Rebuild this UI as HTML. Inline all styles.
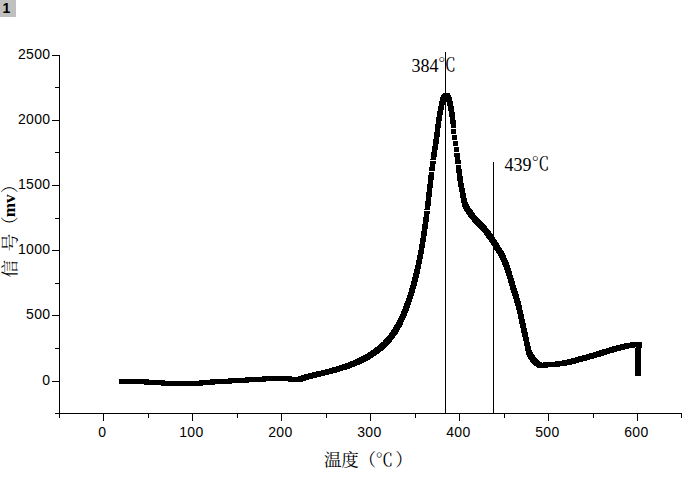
<!DOCTYPE html><html><head><meta charset="utf-8"><title>chart</title><style>
html,body{margin:0;padding:0;background:#fff}
#c{position:relative;width:687px;height:483px;overflow:hidden;background:#fff;font-family:"Liberation Sans",sans-serif;color:#000}
.t{position:absolute;font-size:14px;line-height:16px;height:16px;white-space:nowrap;letter-spacing:0.37px}
.yl{right:636.5px;text-align:right}
.xl{width:60px;text-align:center;top:424px}
.a{position:absolute;font-family:"Liberation Serif",serif;font-size:18px;line-height:20px;white-space:nowrap}
#b{position:absolute;left:0;top:0;width:16px;height:17px;background:#c0c0c0;font-weight:bold;font-size:14px;line-height:16px;text-indent:2.4px}
</style></head><body><div id="c">
<div id="b">1</div>
<svg width="687" height="483" viewBox="0 0 687 483" style="position:absolute;left:0;top:0"><path shape-rendering="crispEdges" fill="#000" d="M59 55h1v359h-1zM55 413h627v1H55zM52 381h7v1h-7zM52 315h7v1h-7zM52 250h7v1h-7zM52 185h7v1h-7zM52 120h7v1h-7zM52 55h7v1h-7zM55 348h4v1h-4zM55 283h4v1h-4zM55 218h4v1h-4zM55 152h4v1h-4zM55 87h4v1h-4zM103 413h1v8h-1zM192 413h1v8h-1zM281 413h1v8h-1zM370 413h1v8h-1zM459 413h1v8h-1zM548 413h1v8h-1zM637 413h1v8h-1zM59 413h1v5h-1zM148 413h1v5h-1zM237 413h1v5h-1zM326 413h1v5h-1zM415 413h1v5h-1zM504 413h1v5h-1zM593 413h1v5h-1zM681 413h1v5h-1zM445 52h1v361h-1zM493 162h1v251h-1z"/><path shape-rendering="crispEdges" fill="#000" d="M443 93h7v1h-7zM442 94h8v1h-8zM441 95h10v1h-10zM441 96h10v1h-10zM440 97h12v1h-12zM440 98h12v1h-12zM440 99h12v1h-12zM440 100h12v1h-12zM439 101h14v1h-14zM439 102h6v1h-6zM447 102h6v1h-6zM439 103h6v1h-6zM447 103h6v1h-6zM439 104h6v1h-6zM447 104h6v1h-6zM439 105h5v1h-5zM447 105h6v1h-6zM438 106h6v1h-6zM448 106h6v1h-6zM438 107h6v1h-6zM448 107h6v1h-6zM438 108h6v1h-6zM448 108h6v1h-6zM438 109h6v1h-6zM448 109h6v1h-6zM438 110h5v1h-5zM448 110h6v1h-6zM437 111h6v1h-6zM449 111h5v1h-5zM437 112h6v1h-6zM449 112h6v1h-6zM437 113h6v1h-6zM449 113h6v1h-6zM437 114h6v1h-6zM449 114h6v1h-6zM437 115h5v1h-5zM449 115h6v1h-6zM437 116h5v1h-5zM449 116h6v1h-6zM436 117h6v1h-6zM450 117h5v1h-5zM436 118h6v1h-6zM450 118h5v1h-5zM436 119h6v1h-6zM450 119h5v1h-5zM436 120h6v1h-6zM450 120h6v1h-6zM436 121h5v1h-5zM450 121h6v1h-6zM436 122h5v1h-5zM450 122h6v1h-6zM436 123h5v1h-5zM450 123h6v1h-6zM435 124h6v1h-6zM451 124h5v1h-5zM435 125h6v1h-6zM451 125h5v1h-5zM435 126h6v1h-6zM451 126h5v1h-5zM435 127h6v1h-6zM451 127h5v1h-5zM435 128h5v1h-5zM435 129h5v1h-5zM451 129h5v1h-5zM435 130h5v1h-5zM451 130h5v1h-5zM435 131h5v1h-5zM451 131h5v1h-5zM434 132h6v1h-6zM451 132h5v1h-5zM434 133h6v1h-6zM451 133h5v1h-5zM434 134h6v1h-6zM434 135h6v1h-6zM452 135h5v1h-5zM434 136h6v1h-6zM452 136h5v1h-5zM434 137h5v1h-5zM452 137h5v1h-5zM434 138h5v1h-5zM452 138h5v1h-5zM433 139h6v1h-6zM452 139h5v1h-5zM433 140h6v1h-6zM433 141h6v1h-6zM453 141h5v1h-5zM433 142h6v1h-6zM453 142h5v1h-5zM433 143h6v1h-6zM453 143h5v1h-5zM433 144h5v1h-5zM453 144h5v1h-5zM433 145h5v1h-5zM453 145h5v1h-5zM432 146h6v1h-6zM432 147h6v1h-6zM454 147h5v1h-5zM432 148h6v1h-6zM454 148h5v1h-5zM432 149h6v1h-6zM454 149h5v1h-5zM432 150h5v1h-5zM454 150h5v1h-5zM432 151h5v1h-5zM454 151h5v1h-5zM431 152h6v1h-6zM431 153h6v1h-6zM454 153h6v1h-6zM431 154h6v1h-6zM454 154h6v1h-6zM431 155h6v1h-6zM454 155h6v1h-6zM431 156h6v1h-6zM454 156h6v1h-6zM431 157h5v1h-5zM455 157h5v1h-5zM431 158h5v1h-5zM455 158h5v1h-5zM430 159h6v1h-6zM455 159h5v1h-5zM455 160h6v1h-6zM430 161h6v1h-6zM455 161h6v1h-6zM430 162h6v1h-6zM455 162h6v1h-6zM430 163h6v1h-6zM455 163h6v1h-6zM430 164h5v1h-5zM430 165h5v1h-5zM456 165h5v1h-5zM430 166h5v1h-5zM456 166h5v1h-5zM429 167h6v1h-6zM456 167h5v1h-5zM429 168h6v1h-6zM456 168h5v1h-5zM429 169h6v1h-6zM456 169h6v1h-6zM429 170h6v1h-6zM456 170h6v1h-6zM456 171h6v1h-6zM429 172h5v1h-5zM456 172h6v1h-6zM429 173h5v1h-5zM457 173h5v1h-5zM429 174h5v1h-5zM457 174h5v1h-5zM428 175h6v1h-6zM457 175h5v1h-5zM428 176h6v1h-6zM457 176h6v1h-6zM428 177h6v1h-6zM457 177h6v1h-6zM428 178h6v1h-6zM457 178h6v1h-6zM428 179h6v1h-6zM457 179h6v1h-6zM428 180h5v1h-5zM457 180h6v1h-6zM428 181h5v1h-5zM458 181h5v1h-5zM428 182h5v1h-5zM458 182h5v1h-5zM428 183h5v1h-5zM458 183h6v1h-6zM427 184h6v1h-6zM458 184h6v1h-6zM427 185h6v1h-6zM458 185h6v1h-6zM427 186h6v1h-6zM458 186h6v1h-6zM427 187h6v1h-6zM459 187h5v1h-5zM427 188h5v1h-5zM459 188h6v1h-6zM427 189h5v1h-5zM459 189h6v1h-6zM427 190h5v1h-5zM459 190h6v1h-6zM427 191h5v1h-5zM459 191h6v1h-6zM426 192h6v1h-6zM460 192h5v1h-5zM426 193h6v1h-6zM460 193h6v1h-6zM426 194h6v1h-6zM460 194h6v1h-6zM426 195h6v1h-6zM460 195h6v1h-6zM426 196h6v1h-6zM460 196h6v1h-6zM426 197h5v1h-5zM460 197h6v1h-6zM426 198h5v1h-5zM461 198h6v1h-6zM426 199h5v1h-5zM461 199h6v1h-6zM426 200h5v1h-5zM461 200h6v1h-6zM425 201h6v1h-6zM461 201h6v1h-6zM425 202h6v1h-6zM461 202h7v1h-7zM425 203h6v1h-6zM462 203h6v1h-6zM425 204h6v1h-6zM462 204h7v1h-7zM425 205h6v1h-6zM462 205h7v1h-7zM425 206h5v1h-5zM462 206h8v1h-8zM425 207h5v1h-5zM463 207h7v1h-7zM425 208h5v1h-5zM463 208h8v1h-8zM424 209h6v1h-6zM464 209h8v1h-8zM464 210h9v1h-9zM424 211h6v1h-6zM465 211h8v1h-8zM424 212h6v1h-6zM466 212h8v1h-8zM424 213h6v1h-6zM466 213h9v1h-9zM424 214h5v1h-5zM467 214h8v1h-8zM424 215h5v1h-5zM468 215h8v1h-8zM424 216h5v1h-5zM468 216h9v1h-9zM423 217h6v1h-6zM469 217h9v1h-9zM423 218h6v1h-6zM470 218h9v1h-9zM423 219h6v1h-6zM471 219h9v1h-9zM423 220h6v1h-6zM472 220h9v1h-9zM423 221h6v1h-6zM472 221h10v1h-10zM423 222h5v1h-5zM473 222h10v1h-10zM423 223h5v1h-5zM474 223h10v1h-10zM422 224h6v1h-6zM475 224h10v1h-10zM422 225h6v1h-6zM476 225h10v1h-10zM422 226h6v1h-6zM477 226h10v1h-10zM422 227h6v1h-6zM478 227h9v1h-9zM422 228h6v1h-6zM479 228h9v1h-9zM422 229h5v1h-5zM480 229h9v1h-9zM422 230h5v1h-5zM481 230h9v1h-9zM421 231h6v1h-6zM482 231h9v1h-9zM421 232h6v1h-6zM483 232h8v1h-8zM421 233h6v1h-6zM484 233h8v1h-8zM421 234h6v1h-6zM484 234h9v1h-9zM421 235h6v1h-6zM485 235h8v1h-8zM421 236h5v1h-5zM486 236h8v1h-8zM421 237h5v1h-5zM486 237h9v1h-9zM420 238h6v1h-6zM487 238h8v1h-8zM420 239h6v1h-6zM488 239h8v1h-8zM420 240h6v1h-6zM489 240h8v1h-8zM420 241h6v1h-6zM489 241h8v1h-8zM420 242h5v1h-5zM490 242h8v1h-8zM420 243h5v1h-5zM491 243h8v1h-8zM419 244h6v1h-6zM491 244h8v1h-8zM419 245h6v1h-6zM492 245h8v1h-8zM419 246h6v1h-6zM493 246h7v1h-7zM419 247h6v1h-6zM493 247h8v1h-8zM419 248h5v1h-5zM494 248h8v1h-8zM419 249h5v1h-5zM494 249h8v1h-8zM418 250h6v1h-6zM495 250h8v1h-8zM418 251h6v1h-6zM496 251h8v1h-8zM418 252h6v1h-6zM496 252h8v1h-8zM418 253h6v1h-6zM497 253h8v1h-8zM418 254h5v1h-5zM498 254h7v1h-7zM417 255h6v1h-6zM498 255h8v1h-8zM417 256h6v1h-6zM499 256h7v1h-7zM417 257h6v1h-6zM499 257h7v1h-7zM417 258h6v1h-6zM500 258h7v1h-7zM417 259h5v1h-5zM500 259h7v1h-7zM416 260h6v1h-6zM501 260h7v1h-7zM416 261h6v1h-6zM501 261h7v1h-7zM416 262h6v1h-6zM502 262h7v1h-7zM416 263h6v1h-6zM502 263h7v1h-7zM416 264h5v1h-5zM502 264h7v1h-7zM415 265h6v1h-6zM503 265h7v1h-7zM415 266h6v1h-6zM503 266h7v1h-7zM415 267h6v1h-6zM504 267h6v1h-6zM415 268h6v1h-6zM504 268h7v1h-7zM414 269h6v1h-6zM504 269h7v1h-7zM414 270h6v1h-6zM505 270h6v1h-6zM414 271h6v1h-6zM505 271h7v1h-7zM414 272h6v1h-6zM505 272h7v1h-7zM413 273h7v1h-7zM506 273h6v1h-6zM413 274h6v1h-6zM506 274h6v1h-6zM413 275h6v1h-6zM506 275h7v1h-7zM413 276h6v1h-6zM507 276h6v1h-6zM412 277h7v1h-7zM507 277h6v1h-6zM412 278h6v1h-6zM507 278h7v1h-7zM412 279h6v1h-6zM508 279h6v1h-6zM412 280h6v1h-6zM508 280h6v1h-6zM411 281h7v1h-7zM508 281h7v1h-7zM411 282h6v1h-6zM508 282h7v1h-7zM411 283h6v1h-6zM509 283h6v1h-6zM411 284h6v1h-6zM509 284h6v1h-6zM410 285h7v1h-7zM509 285h7v1h-7zM410 286h6v1h-6zM510 286h6v1h-6zM410 287h6v1h-6zM510 287h6v1h-6zM409 288h7v1h-7zM510 288h7v1h-7zM409 289h6v1h-6zM510 289h7v1h-7zM409 290h6v1h-6zM511 290h6v1h-6zM409 291h6v1h-6zM511 291h7v1h-7zM408 292h7v1h-7zM511 292h7v1h-7zM408 293h6v1h-6zM512 293h6v1h-6zM408 294h6v1h-6zM512 294h7v1h-7zM407 295h7v1h-7zM512 295h7v1h-7zM407 296h6v1h-6zM513 296h6v1h-6zM407 297h6v1h-6zM513 297h6v1h-6zM406 298h7v1h-7zM513 298h7v1h-7zM406 299h6v1h-6zM514 299h6v1h-6zM406 300h6v1h-6zM514 300h6v1h-6zM405 301h7v1h-7zM514 301h7v1h-7zM405 302h6v1h-6zM514 302h7v1h-7zM404 303h7v1h-7zM515 303h6v1h-6zM404 304h7v1h-7zM515 304h6v1h-6zM404 305h6v1h-6zM515 305h7v1h-7zM403 306h7v1h-7zM516 306h6v1h-6zM403 307h7v1h-7zM516 307h6v1h-6zM403 308h6v1h-6zM516 308h6v1h-6zM402 309h7v1h-7zM516 309h6v1h-6zM402 310h7v1h-7zM517 310h6v1h-6zM401 311h7v1h-7zM517 311h6v1h-6zM401 312h7v1h-7zM517 312h6v1h-6zM401 313h6v1h-6zM517 313h6v1h-6zM400 314h7v1h-7zM518 314h6v1h-6zM400 315h7v1h-7zM518 315h6v1h-6zM399 316h7v1h-7zM518 316h6v1h-6zM399 317h7v1h-7zM518 317h6v1h-6zM398 318h7v1h-7zM518 318h6v1h-6zM398 319h7v1h-7zM519 319h6v1h-6zM397 320h7v1h-7zM519 320h6v1h-6zM397 321h7v1h-7zM519 321h6v1h-6zM396 322h7v1h-7zM519 322h6v1h-6zM396 323h7v1h-7zM519 323h7v1h-7zM395 324h8v1h-8zM520 324h6v1h-6zM394 325h8v1h-8zM520 325h6v1h-6zM394 326h8v1h-8zM520 326h6v1h-6zM393 327h8v1h-8zM520 327h6v1h-6zM393 328h7v1h-7zM521 328h6v1h-6zM392 329h8v1h-8zM521 329h6v1h-6zM391 330h8v1h-8zM521 330h6v1h-6zM391 331h8v1h-8zM521 331h6v1h-6zM390 332h8v1h-8zM521 332h7v1h-7zM389 333h9v1h-9zM522 333h6v1h-6zM389 334h8v1h-8zM522 334h6v1h-6zM388 335h8v1h-8zM522 335h6v1h-6zM387 336h8v1h-8zM522 336h6v1h-6zM386 337h9v1h-9zM523 337h6v1h-6zM385 338h9v1h-9zM523 338h6v1h-6zM384 339h9v1h-9zM523 339h6v1h-6zM383 340h9v1h-9zM523 340h6v1h-6zM383 341h9v1h-9zM524 341h5v1h-5zM381 342h10v1h-10zM524 342h6v1h-6zM630 342h12v1h-12zM380 343h10v1h-10zM524 343h6v1h-6zM624 343h18v1h-18zM379 344h10v1h-10zM524 344h6v1h-6zM620 344h22v1h-22zM378 345h10v1h-10zM524 345h6v1h-6zM616 345h26v1h-26zM377 346h10v1h-10zM525 346h6v1h-6zM612 346h30v1h-30zM375 347h11v1h-11zM525 347h6v1h-6zM609 347h26v1h-26zM636 347h6v1h-6zM374 348h11v1h-11zM525 348h6v1h-6zM606 348h23v1h-23zM635 348h6v1h-6zM373 349h11v1h-11zM525 349h6v1h-6zM602 349h23v1h-23zM635 349h6v1h-6zM371 350h12v1h-12zM525 350h7v1h-7zM599 350h22v1h-22zM635 350h6v1h-6zM370 351h11v1h-11zM526 351h6v1h-6zM596 351h21v1h-21zM635 351h6v1h-6zM368 352h12v1h-12zM526 352h7v1h-7zM593 352h21v1h-21zM635 352h6v1h-6zM367 353h12v1h-12zM526 353h7v1h-7zM589 353h21v1h-21zM635 353h6v1h-6zM365 354h12v1h-12zM526 354h8v1h-8zM586 354h21v1h-21zM635 354h6v1h-6zM363 355h13v1h-13zM527 355h8v1h-8zM582 355h22v1h-22zM635 355h6v1h-6zM361 356h13v1h-13zM527 356h8v1h-8zM578 356h23v1h-23zM635 356h6v1h-6zM359 357h14v1h-14zM528 357h8v1h-8zM575 357h22v1h-22zM635 357h6v1h-6zM357 358h14v1h-14zM528 358h9v1h-9zM571 358h23v1h-23zM635 358h6v1h-6zM355 359h15v1h-15zM529 359h9v1h-9zM567 359h23v1h-23zM635 359h6v1h-6zM353 360h15v1h-15zM530 360h9v1h-9zM562 360h25v1h-25zM635 360h6v1h-6zM350 361h16v1h-16zM530 361h10v1h-10zM555 361h28v1h-28zM635 361h6v1h-6zM348 362h16v1h-16zM531 362h11v1h-11zM543 362h36v1h-36zM635 362h6v1h-6zM345 363h17v1h-17zM532 363h44v1h-44zM635 363h6v1h-6zM342 364h18v1h-18zM533 364h39v1h-39zM635 364h6v1h-6zM339 365h18v1h-18zM534 365h33v1h-33zM635 365h6v1h-6zM336 366h19v1h-19zM536 366h24v1h-24zM635 366h6v1h-6zM332 367h20v1h-20zM537 367h11v1h-11zM635 367h6v1h-6zM329 368h21v1h-21zM635 368h6v1h-6zM325 369h22v1h-22zM635 369h6v1h-6zM321 370h22v1h-22zM635 370h6v1h-6zM316 371h24v1h-24zM635 371h6v1h-6zM312 372h25v1h-25zM635 372h6v1h-6zM308 373h25v1h-25zM635 373h6v1h-6zM304 374h25v1h-25zM635 374h6v1h-6zM301 375h24v1h-24zM635 375h6v1h-6zM262 376h30v1h-30zM298 376h23v1h-23zM245 377h72v1h-72zM228 378h85v1h-85zM119 379h30v1h-30zM210 379h99v1h-99zM119 380h46v1h-46zM199 380h107v1h-107zM119 381h147v1h-147zM288 381h15v1h-15zM119 382h130v1h-130zM119 383h113v1h-113zM144 384h71v1h-71zM161 385h42v1h-42z"/><text x="324 341.3 358.4 375.4 395.2" y="466" font-family="'Liberation Serif', 'Noto Serif CJK SC', serif" font-size="17.6" fill="#000">温度（℃）</text><text x="437.9" y="71.1" font-family="'Liberation Serif', 'Noto Serif CJK SC', serif" font-size="18" fill="#000">℃</text><text x="531.5" y="169.8" font-family="'Liberation Serif', 'Noto Serif CJK SC', serif" font-size="18" fill="#000">℃</text><g transform="translate(15.5 277.3) rotate(-90)"><text x="-0.3 25.95 43.25" y="0.2" font-family="'Liberation Serif', 'Noto Serif CJK SC', serif" font-size="17.6" fill="#000">信号（</text><text x="84.15" y="0.2" font-family="'Liberation Serif', 'Noto Serif CJK SC', serif" font-size="17.6" fill="#000">）</text><text x="59.95" y="-0.3" font-family="Liberation Serif, serif" font-weight="bold" font-size="17.3">mv</text></g></svg>
<div class="t yl" style="top:372px">0</div>
<div class="t yl" style="top:306px">500</div>
<div class="t yl" style="top:241px">1000</div>
<div class="t yl" style="top:176px">1500</div>
<div class="t yl" style="top:111px">2000</div>
<div class="t yl" style="top:46px">2500</div>
<div class="t xl" style="left:72.4px">0</div>
<div class="t xl" style="left:161.4px">100</div>
<div class="t xl" style="left:250.4px">200</div>
<div class="t xl" style="left:339.4px">300</div>
<div class="t xl" style="left:428.4px">400</div>
<div class="t xl" style="left:517.4px">500</div>
<div class="t xl" style="left:606.4px">600</div>
<div class="a" style="left:411.6px;top:55.6px">384</div>
<div class="a" style="left:504.5px;top:154.5px">439</div>
</div></body></html>
